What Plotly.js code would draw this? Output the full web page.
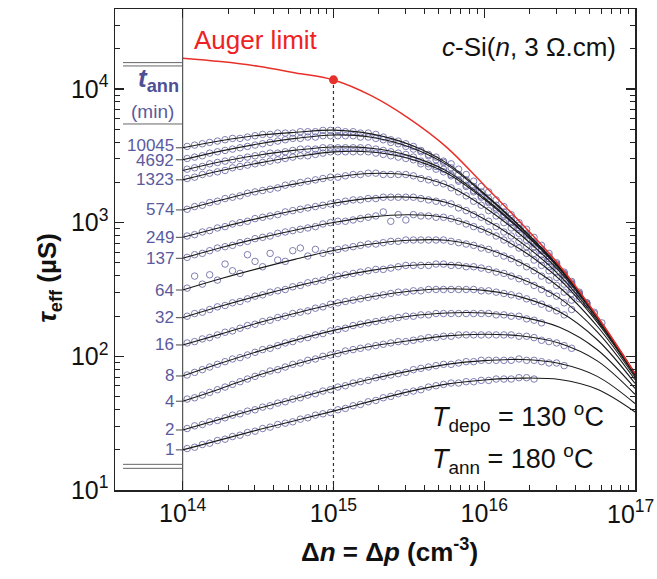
<!DOCTYPE html>
<html>
<head>
<meta charset="utf-8">
<script src="https://cdn.plot.ly/plotly-3.0.1.min.js"></script>
<style>html,body{margin:0;padding:0;background:#fff;}</style>
</head>
<body>
<div id="chart" style="width:657px;height:579px;"></div>
<script>
// ---- data (tau values are log10 of tau_eff in microseconds) ----
const fitDn = [1e14,1.78e14,3.16e14,5.62e14,1e15,1.78e15,3.16e15,5.62e15,1e16,1.78e16,3.16e16,5.62e16,1e17];

const augerLogTau = [4.230,4.205,4.170,4.120,4.067,3.950,3.780,3.565,3.280,2.990,2.680,2.300,1.873];
const augerDotDn = [1e15];
const augerDotTau = [11700];

const measDn = [1.07e14,1.20e14,1.35e14,1.51e14,1.70e14,1.91e14,2.14e14,2.40e14,2.69e14,3.02e14,
 3.39e14,3.80e14,4.27e14,4.79e14,5.37e14,6.03e14,6.76e14,7.59e14,8.51e14,9.55e14,
 1.07e15,1.20e15,1.35e15,1.51e15,1.70e15,1.91e15,2.14e15,2.40e15,2.69e15,3.02e15,
 3.39e15,3.80e15,4.27e15,4.79e15,5.37e15,6.03e15,6.76e15,7.59e15,8.51e15,9.55e15,
 1.07e16,1.20e16,1.35e16,1.51e16,1.70e16,1.91e16,2.14e16,2.40e16,2.69e16,3.02e16,
 3.39e16,3.80e16,4.27e16,4.79e16,5.37e16,6.03e16];

// fitted curves (log10 tau) at fitDn
const fit10045 = [3.560,3.612,3.653,3.676,3.692,3.664,3.586,3.447,3.219,2.959,2.665,2.295,1.870];
const fit4692  = [3.470,3.535,3.588,3.630,3.656,3.639,3.568,3.434,3.212,2.955,2.663,2.294,1.870];
const fitMid   = [3.390,3.455,3.504,3.542,3.566,3.556,3.501,3.387,3.184,2.940,2.655,2.291,1.869];
const fit1323  = [3.320,3.388,3.445,3.493,3.529,3.528,3.479,3.371,3.174,2.934,2.653,2.289,1.868];
const fit574   = [3.095,3.168,3.236,3.290,3.340,3.368,3.355,3.281,3.117,2.900,2.635,2.282,1.866];
const fit249   = [2.890,2.964,3.032,3.092,3.145,3.183,3.191,3.150,3.028,2.847,2.606,2.269,1.860];
const fit137   = [2.733,2.812,2.882,2.945,3.001,3.043,3.059,3.037,2.945,2.793,2.575,2.254,1.855];
const fit64    = [2.496,2.580,2.656,2.727,2.791,2.840,2.868,2.868,2.810,2.696,2.515,2.225,1.843];
const fit32    = [2.289,2.374,2.452,2.524,2.590,2.643,2.679,2.688,2.657,2.577,2.435,2.183,1.825];
const fit16    = [2.085,2.166,2.250,2.323,2.391,2.446,2.487,2.505,2.493,2.441,2.334,2.124,1.798];
const fit8     = [1.853,1.948,2.037,2.121,2.194,2.256,2.300,2.324,2.324,2.293,2.217,2.049,1.761];
const fit4     = [1.664,1.758,1.858,1.943,2.016,2.075,2.116,2.153,2.165,2.152,2.098,1.966,1.716];
const fit2     = [1.449,1.530,1.610,1.685,1.760,1.830,1.889,1.940,1.968,1.976,1.946,1.850,1.647];
const fit1     = [1.300,1.375,1.450,1.520,1.590,1.665,1.736,1.792,1.823,1.837,1.826,1.753,1.584];

// measured points (log10 tau) at measDn
const meas10045 = [3.57,3.58,3.59,3.60,3.61,3.62,3.63,3.63,3.64,3.65,3.66,3.66,3.67,3.67,3.67,3.68,3.68,3.68,3.69,3.69,
 3.69,3.68,3.68,3.67,3.67,3.66,3.64,3.62,3.61,3.59,3.57,3.54,3.51,3.49,3.46,3.44,3.40,3.36,3.31,3.27,
 3.23,3.17,3.12,3.06,3.00,2.95,2.89,2.83,2.77,2.70,2.63,2.56,2.48,2.40,2.33,2.25];
const meas4692 = [3.48,3.49,3.50,3.52,3.53,3.54,3.55,3.56,3.57,3.58,3.59,3.60,3.61,3.62,3.63,3.63,3.64,3.64,3.65,3.65,
 3.65,3.65,3.65,3.64,3.64,3.63,3.62,3.60,3.59,3.57,3.55,3.53,3.50,3.47,3.45,3.41,3.36,3.32,3.27,3.23,
 3.18,3.13,3.08,3.03,2.98,2.92,2.86,2.80,2.75,2.69,2.62,2.55,2.47,2.40,2.32];
const measMid = [3.40,3.41,3.42,3.44,3.45,3.46,3.47,3.48,3.49,3.50,3.51,3.52,3.52,3.53,3.54,3.55,3.55,3.55,3.56,3.56,
 3.56,3.56,3.56,3.56,3.56,3.55,3.54,3.53,3.52,3.51,3.49,3.46,3.44,3.42,3.40,3.36,3.32,3.28,3.24,3.20,
 3.16,3.11,3.06,3.01,2.96,2.91,2.85,2.79,2.73,2.68,2.61,2.54,2.47,2.39];
const meas1323 = [3.33,3.34,3.36,3.37,3.38,3.39,3.41,3.42,3.43,3.44,3.45,3.46,3.47,3.48,3.49,3.50,3.50,3.51,3.52,3.53,
 3.53,3.53,3.53,3.53,3.53,3.52,3.51,3.50,3.49,3.48,3.47,3.44,3.42,3.40,3.38,3.35,3.31,3.27,3.23,3.19,
 3.15,3.10,3.05,3.00,2.95,2.90,2.84,2.79,2.73,2.68,2.61,2.54,2.46,2.39];
const meas574 = [3.10,3.12,3.13,3.15,3.16,3.18,3.19,3.20,3.22,3.23,3.24,3.25,3.26,3.28,3.29,3.30,3.31,3.32,3.33,3.34,
 3.34,3.35,3.36,3.36,3.37,3.37,3.36,3.36,3.36,3.36,3.35,3.33,3.32,3.30,3.29,3.26,3.23,3.20,3.16,3.13,
 3.09,3.05,3.00,2.96,2.92,2.87,2.82,2.76,2.71,2.66,2.59,2.52,2.45];
const meas249 = [2.90,2.91,2.93,2.94,2.96,2.97,2.99,3.00,3.01,3.03,3.04,3.05,3.06,3.08,3.09,3.10,3.11,3.12,3.13,3.14,
 3.15,3.16,3.17,3.17,3.18,3.18,3.19,3.19,3.19,3.19,3.19,3.18,3.17,3.16,3.15,3.14,3.11,3.09,3.06,3.04,
 3.01,2.97,2.93,2.90,2.86,2.82,2.77,2.72,2.67,2.63,2.57,2.50,2.43];
const meas137 = [2.74,2.76,2.77,2.79,2.81,2.82,2.83,2.85,2.86,2.88,2.89,2.90,2.92,2.93,2.94,2.95,2.96,2.97,2.99,3.00,
 3.01,3.01,3.02,3.03,3.04,3.05,3.08,3.01,3.06,3.02,3.06,3.05,3.05,3.04,3.04,3.03,3.01,2.99,2.97,2.95,
 2.93,2.90,2.87,2.84,2.81,2.77,2.72,2.68,2.64,2.59,2.54,2.47];
const meas64 = [2.51,2.60,2.54,2.61,2.57,2.69,2.64,2.62,2.76,2.71,2.67,2.77,2.72,2.71,2.79,2.81,2.75,2.80,2.77,2.79,
 2.80,2.81,2.82,2.83,2.84,2.84,2.85,2.86,2.86,2.87,2.87,2.87,2.87,2.87,2.87,2.86,2.85,2.84,2.83,2.81,
 2.80,2.77,2.75,2.73,2.70,2.67,2.64,2.60,2.57,2.53,2.48,2.42];
const meas32 = [2.30,2.32,2.33,2.35,2.37,2.38,2.40,2.41,2.43,2.45,2.46,2.48,2.49,2.50,2.52,2.53,2.55,2.56,2.57,2.59,
 2.60,2.61,2.62,2.63,2.64,2.65,2.65,2.66,2.67,2.68,2.68,2.68,2.68,2.69,2.69,2.68,2.68,2.67,2.67,2.66,
 2.65,2.63,2.62,2.60,2.58,2.56,2.53,2.50,2.47,2.45,2.40,2.35];
const meas16 = [2.10,2.11,2.13,2.14,2.16,2.18,2.19,2.21,2.23,2.24,2.26,2.27,2.29,2.30,2.32,2.33,2.34,2.36,2.37,2.39,
 2.40,2.41,2.42,2.43,2.44,2.45,2.46,2.47,2.48,2.48,2.49,2.49,2.50,2.50,2.50,2.50,2.50,2.50,2.50,2.49,
 2.49,2.48,2.47,2.46,2.45,2.43,2.41,2.39,2.36,2.34,2.31];
const meas8 = [1.86,1.88,1.90,1.92,1.94,1.96,1.98,1.99,2.01,2.03,2.05,2.06,2.08,2.10,2.11,2.13,2.14,2.16,2.17,2.19,
 2.20,2.21,2.23,2.24,2.25,2.26,2.27,2.28,2.29,2.30,2.30,2.31,2.31,2.32,2.32,2.32,2.32,2.32,2.32,2.32,
 2.32,2.31,2.31,2.30,2.30,2.28,2.27,2.25];
const meas4 = [1.68,1.69,1.71,1.73,1.75,1.77,1.79,1.81,1.83,1.85,1.87,1.89,1.90,1.92,1.94,1.95,1.97,1.98,2.00,2.01,
 2.02,2.04,2.05,2.06,2.07,2.08,2.09,2.10,2.11,2.11,2.12,2.13,2.14,2.14,2.15,2.15,2.16,2.16,2.16,2.16,
 2.16,2.16,2.16,2.16,2.15,2.15,2.14,2.12,2.11,2.10,2.08,2.06];
const meas2 = [1.46,1.48,1.49,1.51,1.52,1.54,1.56,1.57,1.59,1.60,1.62,1.63,1.65,1.66,1.68,1.69,1.71,1.72,1.74,1.75,
 1.77,1.78,1.80,1.81,1.82,1.84,1.85,1.86,1.87,1.88,1.90,1.91,1.92,1.93,1.94,1.94,1.95,1.96,1.96,1.97,
 1.97,1.97,1.97,1.97,1.98,1.97,1.97,1.96,1.95,1.95,1.93];
const meas1 = [1.31,1.32,1.34,1.35,1.37,1.38,1.40,1.41,1.43,1.44,1.46,1.47,1.49,1.50,1.51,1.53,1.54,1.56,1.57,1.58,
 1.60,1.61,1.63,1.64,1.66,1.67,1.69,1.70,1.72,1.73,1.74,1.75,1.77,1.78,1.79,1.80,1.80,1.81,1.81,1.82,
 1.82,1.83,1.83,1.83,1.84,1.84,1.83];

const tAnnLabels = ['10045','4692','','1323','574','249','137','64','32','16','8','4','2','1'];
const fitSets  = [fit10045,fit4692,fitMid,fit1323,fit574,fit249,fit137,fit64,fit32,fit16,fit8,fit4,fit2,fit1];
const measSets = [meas10045,meas4692,measMid,meas1323,meas574,meas249,meas137,meas64,meas32,meas16,meas8,meas4,meas2,meas1];

// decorations of the left label panel (log10 tau)
const panelRuleLogTau = [4.197,4.172,3.738,1.192,1.162];

const xTickVals = [1e14,1e15,1e16,1e17];
const xTickText = ['10<sup>14</sup>','10<sup>15</sup>','10<sup>16</sup>',''];
const xLastTickText = '10<sup>17</sup>';
const yTickVals = [10,100,1000,10000];
const yTickText = ['10<sup>1</sup>','10<sup>2</sup>','10<sup>3</sup>','10<sup>4</sup>'];

// ---- build ----
const toLin = a => a.map(v => Math.pow(10, v));
const traces = [];
const circleColor = 'rgba(105,105,165,0.85)';

measSets.forEach(m => {
  traces.push({x: measDn.slice(0, m.length), y: toLin(m), mode:'markers', type:'scatter',
    marker:{symbol:'circle-open', size:6.5, color:circleColor, line:{width:1, color:circleColor}}, hoverinfo:'skip'});
});
fitSets.forEach(f => {
  traces.push({x: fitDn, y: toLin(f), mode:'lines', type:'scatter',
    line:{color:'#1a1a1a', width:1.1, shape:'spline', smoothing:1}, hoverinfo:'skip'});
});
// Auger limit
traces.push({x: fitDn, y: toLin(augerLogTau), mode:'lines', line:{color:'#e8302a', width:1.5, shape:'spline'}, hoverinfo:'skip'});
// dashed guide at 1e15
traces.push({x:[augerDotDn[0], augerDotDn[0]], y:[10, augerDotTau[0]], mode:'lines', line:{color:'#333', width:1.2, dash:'3px,3px'}, hoverinfo:'skip'});
traces.push({x: augerDotDn, y: augerDotTau, mode:'markers', marker:{color:'#e8302a', size:9}, hoverinfo:'skip'});
// inner boundary at 1e14
traces.push({x:[1e14,1e14], y:[10, Math.pow(10,4.598)], mode:'lines', line:{color:'#333', width:1}, hoverinfo:'skip'});
// panel rules
panelRuleLogTau.forEach(v => {
  traces.push({x:[Math.pow(10,13.604), 1e14], y:[Math.pow(10,v), Math.pow(10,v)], mode:'lines', line:{color:'#666', width:1}, hoverinfo:'skip'});
});
// label ticks
const annotations = [];
const labelColor = '#5a5a9e';
const labelShift = {'10045': 2, '4692': -1};
fitSets.forEach((f, i) => {
  if (!tAnnLabels[i]) return;
  traces.push({x:[Math.pow(10,13.955), 1e14], y:[Math.pow(10,f[0]), Math.pow(10,f[0])], mode:'lines', line:{color:'#444', width:1}, hoverinfo:'skip'});
  annotations.push({x:13.953, y:f[0], xref:'x', yref:'y', yshift: labelShift[tAnnLabels[i]] || 0, text:tAnnLabels[i], showarrow:false, xanchor:'right', yanchor:'middle',
    font:{size:17, color:labelColor}});
});

annotations.push(
  {x:13.84, y:4.07, xref:'x', yref:'y', text:'<b><i>t</i><sub>ann</sub></b>', showarrow:false, font:{size:26, color:'#4f4f95'}},
  {x:13.803, y:3.828, xref:'x', yref:'y', text:'(min)', showarrow:false, font:{size:19, color:labelColor}},
  {x:14.06, y:4.366, xref:'x', yref:'y', text:'Auger limit', showarrow:false, xanchor:'left', font:{size:26, color:'#ee2222'}},
  {x:16.887, y:4.314, xref:'x', yref:'y', text:'<i>c</i>-Si(<i>n</i>, 3 Ω.cm)', showarrow:false, xanchor:'right', font:{size:26, color:'#111'}},
  {x:15.642, y:1.546, xref:'x', yref:'y', text:'<i>T</i><sub>depo</sub> = 130 <sup>o</sup>C', showarrow:false, xanchor:'left', font:{size:27, color:'#111'}},
  {x:15.642, y:1.232, xref:'x', yref:'y', text:'<i>T</i><sub>ann</sub> = 180 <sup>o</sup>C', showarrow:false, xanchor:'left', font:{size:27, color:'#111'}},
  {x:0, y:0.44, xref:'paper', yref:'paper', xshift:-85, text:'<b><i>τ</i><sub>eff</sub> (µS)</b>', textangle:-90, showarrow:false, font:{size:26, color:'#111'}},
  {x:0.527, y:0, xref:'paper', yref:'paper', yshift:-60, yanchor:'middle', text:'<b>Δ<i>n</i> = Δ<i>p</i> (cm<sup>-3</sup>)</b>', showarrow:false, font:{size:26, color:'#111'}},
  // last x tick label, kept inside the picture edge as in the reference
  {x:1.0404, y:0, xref:'paper', yref:'paper', xanchor:'right', yanchor:'top', yshift:-4, text:xLastTickText, showarrow:false, font:{size:25, color:'#111'}}
);

const xMinor = [];
[1e14,1e15,1e16].forEach(d => { for (let k=2;k<=9;k++) xMinor.push(k*d); });
const yMinor = [];
[10,100,1000].forEach(d => { for (let k=2;k<=9;k++) yMinor.push(k*d); });
yMinor.push(20000, 30000);

const axisCommon = {type:'log', showgrid:false, zeroline:false, showline:true, linecolor:'#222', linewidth:1.5,
  mirror:'allticks', ticks:'inside', ticklen:9, tickwidth:1.3, tickcolor:'#222', tickmode:'array',
  tickfont:{size:25, color:'#111'}};

const layout = {
  width:657, height:579, margin:{l:115, r:22, t:9, b:89},
  paper_bgcolor:'#fff', plot_bgcolor:'#fff', showlegend:false,
  font:{family:'Liberation Sans, Arial, sans-serif', color:'#111'},
  xaxis: Object.assign({}, axisCommon, {range:[13.551,17], tickvals:xTickVals, ticktext:xTickText,
    minor:{tickmode:'array', tickvals:xMinor, ticks:'inside', ticklen:5, tickwidth:1, tickcolor:'#222', showgrid:false}}),
  yaxis: Object.assign({}, axisCommon, {range:[1,4.598], tickvals:yTickVals, ticktext:yTickText,
    minor:{tickmode:'array', tickvals:yMinor, ticks:'inside', ticklen:5, tickwidth:1, tickcolor:'#222', showgrid:false}}),
  annotations: annotations
};

Plotly.newPlot('chart', traces, layout, {displayModeBar:false, staticPlot:true});
</script>
</body>
</html>
